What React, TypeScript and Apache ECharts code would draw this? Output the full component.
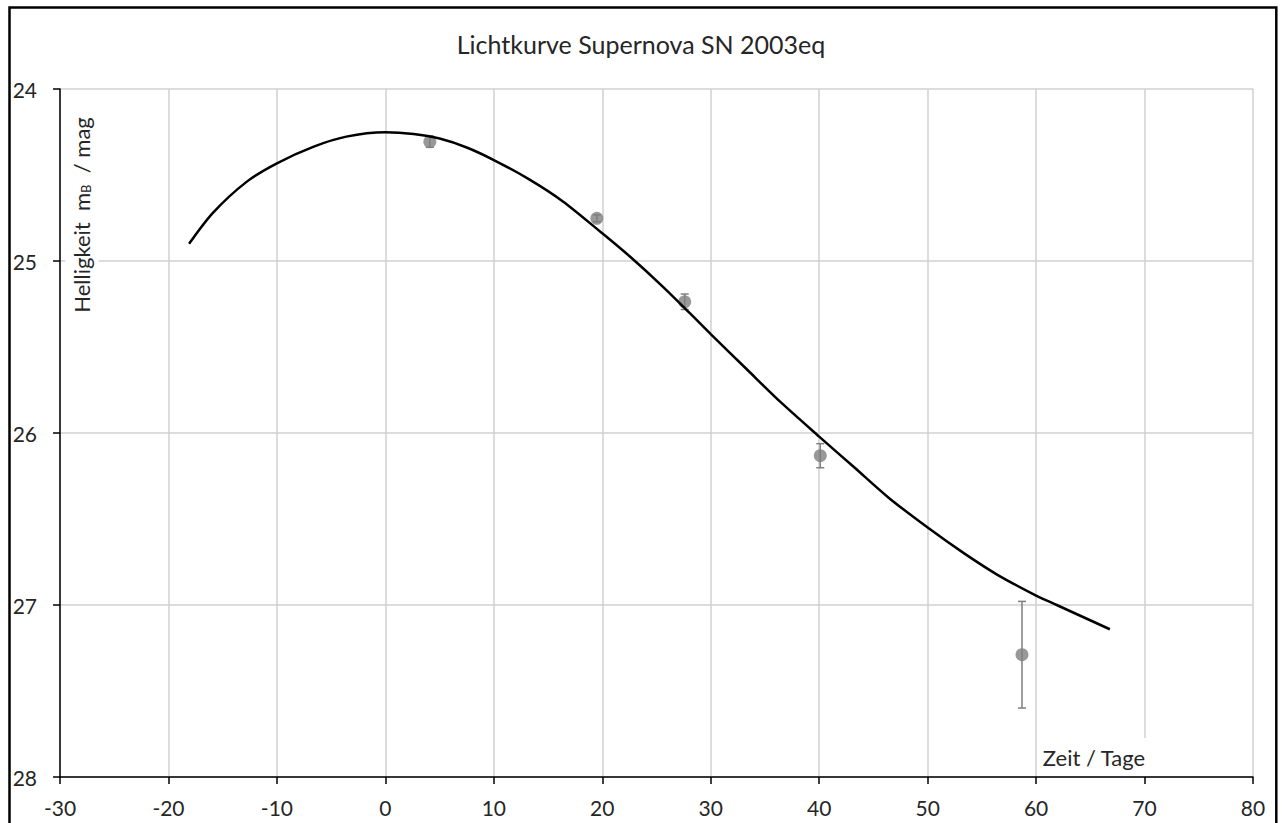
import React, { useEffect, useRef } from "react";
import * as echarts from "echarts";

const titleText = "Lichtkurve Supernova SN 2003eq";
const xTicks = [-30, 80, 10];
const yRange = [24, 28, 1];

// measured points: day, magnitude, error
const measuredX = [4.1, 19.5, 27.6, 40.1, 58.7];
const measuredY = [24.306, 24.752, 25.237, 26.132, 27.289];
const measuredErr = [0.033, 0.02, 0.045, 0.07, 0.31];

// fitted light curve
const curveX = [-18.1, -15.9, -12.8, -10.0, -6.6, -3.6, 0.0, 2.6, 5.0, 7.5, 10.0, 13.3, 16.4, 20.0, 22.6, 25.6, 28.1, 30.0, 33.3, 36.4, 40.0, 43.2, 46.4, 50.1, 53.3, 56.4, 60.0, 61.9, 66.8];
const curveY = [24.9, 24.72, 24.54, 24.432, 24.335, 24.277, 24.252, 24.262, 24.288, 24.34, 24.413, 24.527, 24.655, 24.839, 24.977, 25.15, 25.305, 25.425, 25.628, 25.818, 26.021, 26.198, 26.376, 26.554, 26.697, 26.823, 26.945, 27.0, 27.141];

const FONT = "Lato, 'Open Sans', sans-serif";
const TXT = "#262626";

export default function App() {
  const ref = useRef<HTMLDivElement>(null);
  useEffect(() => {
    if (!ref.current) return;
    const chart = echarts.init(ref.current, undefined, { renderer: "svg" });
    const pts = measuredX.map((x, i) => [x, measuredY[i], measuredErr[i]]);
    const curve = curveX.map((x, i) => [x, curveY[i]]);
    chart.setOption({
      animation: false,
      backgroundColor: "#ffffff",
      textStyle: { fontFamily: FONT },
      title: {
        text: titleText,
        left: "center",
        top: 26,
        textStyle: { fontFamily: FONT, fontSize: 25, fontWeight: "normal", color: TXT },
      },
      grid: { left: 60, right: 29, top: 89, bottom: 46, containLabel: false },
      xAxis: {
        type: "value",
        min: xTicks[0],
        max: xTicks[1],
        interval: xTicks[2],
        axisLine: { onZero: false, lineStyle: { color: "#000", width: 1.5 } },
        axisTick: { show: true, length: 7, lineStyle: { color: "#000", width: 1.5 } },
        axisLabel: { fontFamily: FONT, fontSize: 21, color: TXT, margin: 20 },
        splitLine: { show: true, lineStyle: { color: "#d0d0d0", width: 1.5 } },
      },
      yAxis: {
        type: "value",
        inverse: true,
        min: yRange[0],
        max: yRange[1],
        interval: yRange[2],
        axisLine: { show: true, onZero: false, lineStyle: { color: "#000", width: 1.5 } },
        axisTick: { show: true, length: 7, lineStyle: { color: "#000", width: 1.5 } },
        axisLabel: { fontFamily: FONT, fontSize: 21, color: TXT, margin: 23 },
        splitLine: { show: true, lineStyle: { color: "#d0d0d0", width: 1.5 } },
      },
      graphic: [
        {
          type: "rect",
          shape: { x: 9.5, y: 7.5, width: 1266.8, height: 840 },
          style: { fill: "none", stroke: "#000", lineWidth: 2.5 },
          z: 100,
        },
        {
          type: "text",
          x: 82,
          y: 215,
          rotation: Math.PI / 2,
          z: 50,
          style: {
            text: "Helligkeit  m{sub|B}  / mag",
            fontFamily: FONT,
            fontSize: 22,
            fill: TXT,
            align: "center",
            verticalAlign: "middle",
            backgroundColor: "#fff",
            padding: [4, 4, 6, 4],
            rich: {
              sub: { fontSize: 13, fontFamily: FONT, fill: TXT, verticalAlign: "bottom", padding: [10, 0, 0, 0] },
            },
          },
        },
        {
          type: "text",
          x: 1094,
          y: 757,
          z: 50,
          style: {
            text: "Zeit / Tage",
            fontFamily: FONT,
            fontSize: 22,
            fill: TXT,
            align: "center",
            verticalAlign: "middle",
            backgroundColor: "#fff",
            padding: [8, 2, 8, 2],
          },
        },
      ],
      series: [
        {
          type: "custom",
          name: "err",
          data: pts,
          encode: { x: 0, y: 1 },
          z: 3,
          renderItem: (params: any, api: any) => {
            const x = api.value(0);
            const y = api.value(1);
            const e = api.value(2);
            const top = api.coord([x, y - e]);
            const bot = api.coord([x, y + e]);
            const st = { stroke: "#7f7f7f", lineWidth: 1.5 };
            return {
              type: "group",
              children: [
                { type: "line", shape: { x1: top[0], y1: top[1], x2: bot[0], y2: bot[1] }, style: st },
                { type: "line", shape: { x1: top[0] - 4, y1: top[1], x2: top[0] + 4, y2: top[1] }, style: st },
                { type: "line", shape: { x1: bot[0] - 4, y1: bot[1], x2: bot[0] + 4, y2: bot[1] }, style: st },
              ],
            };
          },
        },
        {
          type: "scatter",
          data: pts.map((p) => [p[0], p[1]]),
          symbol: "circle",
          symbolSize: 13,
          itemStyle: { color: "#808080" },
          z: 4,
        },
        {
          type: "line",
          data: curve,
          showSymbol: false,
          smooth: 0.3,
          lineStyle: { color: "#000", width: 2.5 },
          z: 5,
        },
      ],
    });
    return () => chart.dispose();
  }, []);
  return (
    <div
      ref={ref}
      style={{ position: "fixed", left: 0, top: 0, width: 1282, height: 823 }}
    />
  );
}
